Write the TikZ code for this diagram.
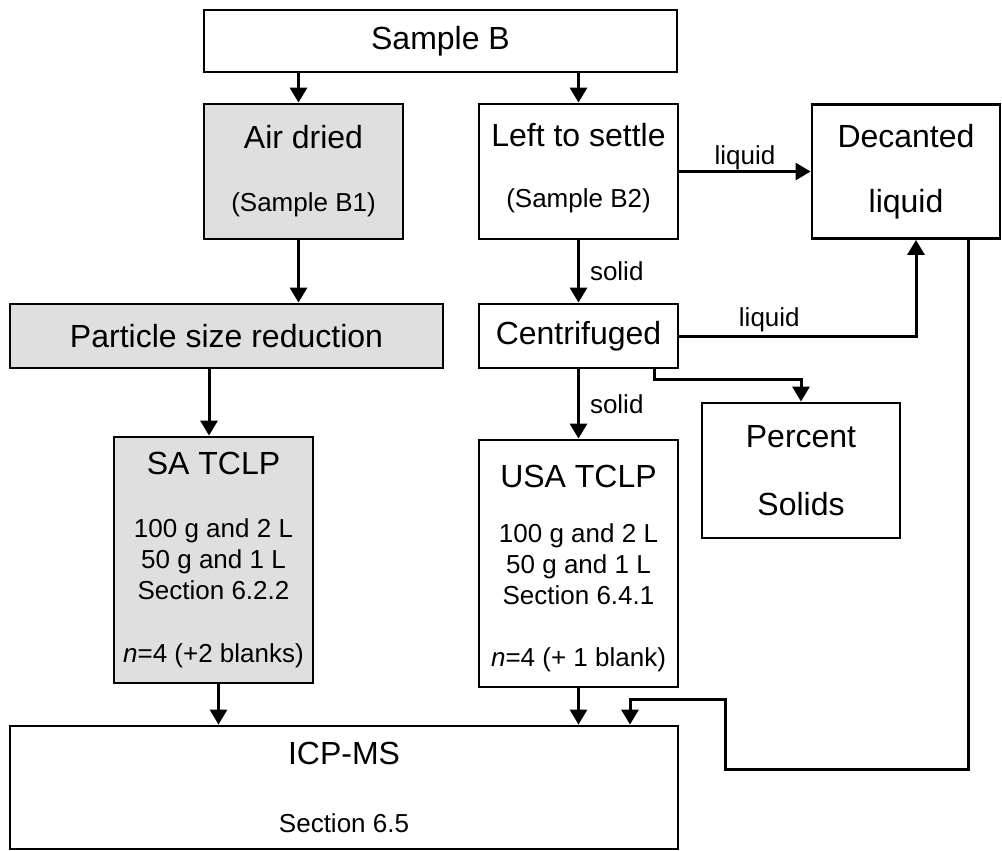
\documentclass[tikz,border=0pt]{standalone}
\usepackage{fontspec}
\setmainfont{Liberation Sans}
\usetikzlibrary{arrows.meta,positioning}
\newcommand{\bigtxt}{\fontsize{32}{36}\selectfont}
\newcommand{\smalltxt}{\fontsize{26}{31}\selectfont}

\begin{document}
\begin{tikzpicture}[x=1pt,y=-1pt,>={Triangle[length=15pt,width=17pt]}]
    \tikzset{stage/.style= {draw, line width=2.8pt, rectangle, inner sep=0pt, align=center, font=\smalltxt} }
    \tikzset{greybox/.style= {stage, fill=gray!25} }
    \tikzset{flow/.style= {->, line width=3pt} }
    \tikzset{lbl/.style= {inner sep=0pt, font=\smalltxt} }

    \useasboundingbox (0,0) rectangle (1002,851);

    \node[stage] (sampleb) at (440.5,41) [minimum width=473pt, minimum height=62pt] {{\bigtxt Sample B}};

    \node[greybox] (air) at (303.5,171.5) [minimum width=199pt, minimum height=135pt] {{\bigtxt Air dried}\\[32pt](Sample B1)};
    \node[stage] (settle) at (578.5,171.5) [minimum width=199pt, minimum height=135pt] {{\bigtxt Left to settle}\\[30pt](Sample B2)\rule[-13pt]{0pt}{1pt}};
    \node[stage] (decant) at (906,171.5) [minimum width=188pt, minimum height=134pt] {{\bigtxt Decanted}\\[34pt]{\bigtxt liquid}};

    \node[greybox] (particle) at (226.5,336) [minimum width=433pt, minimum height=64pt] {{\bigtxt Particle size reduction}};
    \node[stage] (centri) at (578.5,336) [minimum width=199pt, minimum height=64pt] {{\bigtxt Centrifuged}};
    \node[stage] (percent) at (801,470.5) [minimum width=198pt, minimum height=135pt] {{\bigtxt Percent}\\[37pt]{\bigtxt Solids}};

    \node[greybox] (satclp) at (213.5,560) [minimum width=199pt, minimum height=246pt] {{\bigtxt SA TCLP}\\[32pt]100 g and 2 L\\50 g and 1 L\\Section 6.2.2\\[32pt]\textit{n}=4 (+2 blanks)};
    \node[stage] (usatclp) at (578.5,563.5) [minimum width=199pt, minimum height=247pt] {\rule{0pt}{32pt}{\bigtxt USA TCLP}\\[24pt]100 g and 2 L\\50 g and 1 L\\Section 6.4.1\\[31pt]\textit{n}=4 (+ 1 blank)};

    \node[stage] (icpms) at (344,787.5) [minimum width=668pt, minimum height=123pt] {{\bigtxt ICP-MS}\\[37pt]Section 6.5};

    % entry and exit points off the box centres
    \coordinate (airin) at ([xshift=-5pt]air.north);
    \coordinate (sain) at ([xshift=-4.5pt]satclp.north);
    \coordinate (saout) at ([xshift=5pt]satclp.south);
    \coordinate (decin) at ([xshift=10pt]decant.south);
    \coordinate (decout) at ([xshift=62pt]decant.south);
    \coordinate (centriout) at ([xshift=75.5pt]centri.south);
    \coordinate (icpin) at ([xshift=286pt]icpms.north);

    % left branch
    \path[draw, flow] (sampleb.south -| airin) -- (airin);
    \path[draw, flow] (air.south -| airin) -- (particle.north -| airin);
    \path[draw, flow] (particle.south -| sain) -- (sain);
    \path[draw, flow] (saout) -- (icpms.north -| saout);

    % right branch
    \path[draw, flow] (sampleb.south -| settle.north) -- (settle.north);
    \path[draw, flow] (settle.east) -- node[lbl, above=0pt] (liq1) {liquid} (decant.west);
    \path[draw, flow] (settle.south -| centri.north) -- node[lbl, right=10pt] (sol1) {solid} (centri.north);
    \path[draw, flow] (centri.east) -| node[lbl, pos=0.19, above=3pt] (liq2) {liquid} (decin);
    \path[draw, flow] (centriout) -- ++(0,10) -| (percent.north);
    \path[draw, flow] (centri.south) -- node[lbl, right=10pt] (sol2) {solid} (usatclp.north);
    \path[draw, flow] (usatclp.south) -- (usatclp.south |- icpms.north);
    \path[draw, flow] (decout) -- ++(0,530) -- ++(-243,0) -- ++(0,-70) -| (icpin);
\end{tikzpicture}
\end{document}
